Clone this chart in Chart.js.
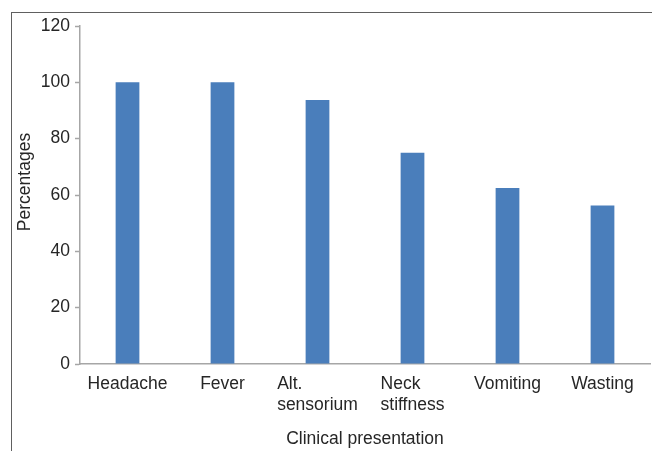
<!DOCTYPE html>
<html>
<head>
<meta charset="utf-8">
<script src="https://cdn.jsdelivr.net/npm/chart.js@4.4.1/dist/chart.umd.min.js"></script>
<style>
  html, body { margin: 0; padding: 0; background: #fff; }
  #wrap { position: relative; width: 652px; height: 451px; }
  #frame { position: absolute; left: 11px; top: 12px; right: 0; bottom: 0;
           border-left: 1.5px solid #606060; border-top: 1.5px solid #606060; pointer-events: none; }
</style>
</head>
<body>
<div id="wrap">
  <canvas id="chart" width="652" height="451"></canvas>
  <div id="frame"></div>
</div>
<script>
// data
const categories = [['Headache'], ['Fever'], ['Alt.', 'sensorium'], ['Neck', 'stiffness'], ['Vomiting'], ['Wasting']];
const percentages = [100, 100, 93.75, 75, 62.5, 56.25];
const yTicks = [0, 20, 40, 60, 80, 100, 120];
const yTitle = 'Percentages';

const FONT = 'Arial, "Liberation Sans", sans-serif';
const SIZE = 17.5;
const textColor = '#262626';
const axisColor = '#a6a6a6';

// x labels: lines left aligned, block centered under the bar
// y title: sits a bit above the axis middle, like the original
const customText = {
  id: 'customText',
  afterDraw(chart) {
    const ctx = chart.ctx;
    const x = chart.scales.x;
    const y = chart.scales.y;
    ctx.save();
    ctx.font = SIZE + 'px ' + FONT;
    ctx.fillStyle = textColor;
    ctx.textBaseline = 'top';
    ctx.textAlign = 'left';
    categories.forEach((lines, i) => {
      const w = Math.max(...lines.map(l => ctx.measureText(l).width));
      const left = x.getPixelForTick(i) - w / 2;
      lines.forEach((l, j) => ctx.fillText(l, left, x.top + 11 + j * 21));
    });
    ctx.translate(25, (y.top + y.bottom) / 2 - 13);
    ctx.rotate(-Math.PI / 2);
    ctx.textAlign = 'center';
    ctx.textBaseline = 'middle';
    ctx.fillText(yTitle, 0, 0);
    ctx.restore();
  }
};

new Chart(document.getElementById('chart'), {
  type: 'bar',
  data: {
    labels: categories,
    datasets: [{
      data: percentages,
      backgroundColor: '#4a7ebb',
      borderWidth: 0,
      barPercentage: 0.25,
      categoryPercentage: 1
    }]
  },
  options: {
    responsive: false,
    animation: false,
    layout: { padding: { left: 12, top: 26, right: 2, bottom: 1 } },
    plugins: { legend: { display: false }, tooltip: { enabled: false } },
    scales: {
      x: {
        grid: { display: false },
        border: { color: axisColor, width: 1.5 },
        ticks: { color: 'rgba(0,0,0,0)', font: { size: SIZE, family: FONT }, maxRotation: 0, padding: 8 },
        title: { display: true, text: 'Clinical presentation', color: textColor,
                 font: { size: SIZE, family: FONT }, padding: { top: 6, bottom: 0 } },
        afterFit(scale) { scale.height = 86; }
      },
      y: {
        min: 0, max: 120,
        afterBuildTicks(scale) { scale.ticks = yTicks.map(v => ({ value: v })); },
        grid: { drawOnChartArea: false, drawTicks: true, tickLength: 5, tickColor: axisColor, tickWidth: 1.5 },
        border: { color: axisColor, width: 1.5 },
        ticks: { color: textColor, font: { size: SIZE, family: FONT }, padding: 5 },
        title: { display: false },
        afterFit(scale) { scale.width = 68; }
      }
    }
  },
  plugins: [customText]
});
</script>
</body>
</html>
